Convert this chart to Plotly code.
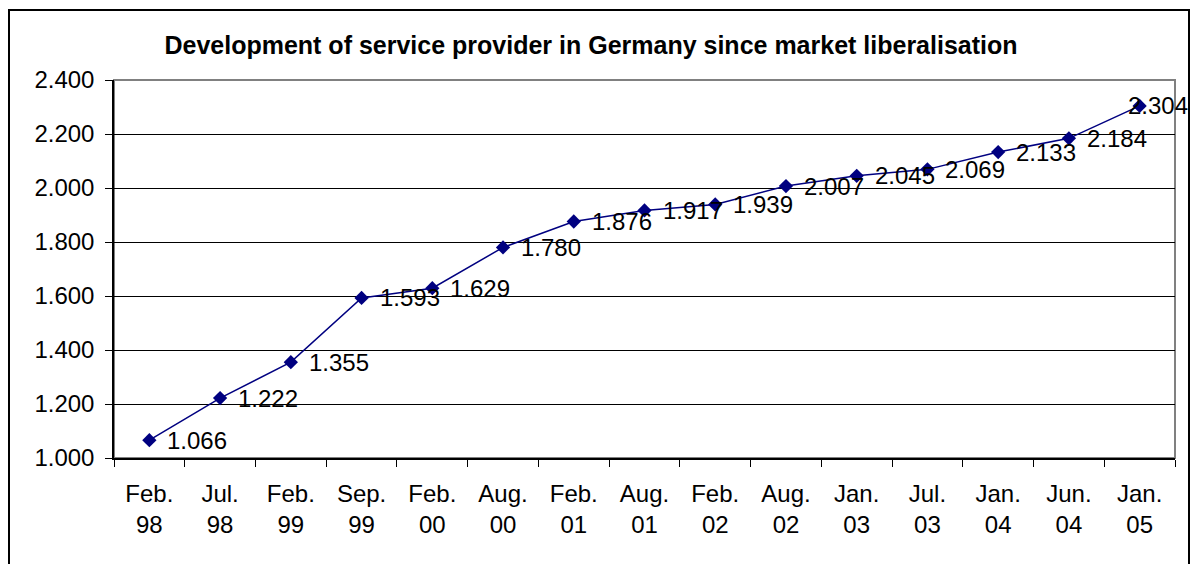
import plotly.graph_objects as go

# Service providers over time
periods = ["Feb. 98", "Jul. 98", "Feb. 99", "Sep. 99", "Feb. 00", "Aug. 00", "Feb. 01",
           "Aug. 01", "Feb. 02", "Aug. 02", "Jan. 03", "Jul. 03", "Jan. 04", "Jun. 04", "Jan. 05"]
providers = [1066, 1222, 1355, 1593, 1629, 1780, 1876, 1917, 1939, 2007, 2045, 2069, 2133, 2184, 2304]
y_ticks = [1000, 1200, 1400, 1600, 1800, 2000, 2200, 2400]

title = "Development of service provider in Germany since market liberalisation"

W, H = 1193, 564
L, R, T, B = 114, 1175, 80, 458  # plot area in pixels
FS = 24

cats = [p.replace(" ", "<br>") for p in periods]

def fmt(v):
    return f"{v:,}".replace(",", ".")

fig = go.Figure()
fig.add_trace(go.Scatter(
    x=cats, y=providers, mode="lines+markers",
    line=dict(color="#000080", width=1.5),
    marker=dict(symbol="diamond", size=11, color="#000080"),
    hoverinfo="skip", showlegend=False,
))

# value labels to the right of each point; the last one is pulled back inside the chart
for i, (c, v) in enumerate(zip(cats, providers)):
    last = i == len(cats) - 1
    fig.add_annotation(
        x=c, y=v, text=fmt(v), showarrow=False,
        xanchor="left", yanchor="middle",
        xshift=-14 if last else 16, yshift=0,
        font=dict(family="Liberation Sans, Arial", size=FS, color="#000"),
    )

def px_x(p):
    return (p - L) / (R - L)

def px_y(p):
    return (B - p) / (B - T)

# outer chart frame
fig.add_shape(type="rect", xref="paper", yref="paper",
              x0=px_x(9), x1=px_x(1189), y0=px_y(568), y1=px_y(10),
              line=dict(color="#000", width=2), layer="below")
# plot area frame
fig.add_shape(type="rect", xref="paper", yref="paper",
              x0=0, x1=1, y0=0, y1=1,
              line=dict(color="#808080", width=2), layer="below")

fig.update_layout(
    width=W, height=H, autosize=False,
    margin=dict(l=L, r=W - R, t=T, b=H - B, pad=0),
    paper_bgcolor="white", plot_bgcolor="white",
    separators=",.",
    font=dict(family="Liberation Sans, Arial", size=FS, color="#000"),
    title=dict(text=f"<b>{title}</b>", xref="container", x=591 / W, xanchor="center",
               yref="container", y=1 - 45 / H, yanchor="middle",
               font=dict(family="Liberation Sans, Arial", size=25, color="#000")),
)

fig.update_xaxes(
    type="category", range=[-0.5, len(cats) - 0.5],
    showgrid=False, showline=True, linecolor="#000", linewidth=1.5,
    ticks="outside", ticklen=7, tickcolor="#000", tickwidth=1, tickson="boundaries",
    tickfont=dict(size=FS), ticklabelstandoff=13,
)
fig.update_yaxes(
    range=[1000, 2400], tickvals=y_ticks, ticktext=[fmt(v) for v in y_ticks],
    showgrid=True, gridcolor="#000", gridwidth=1,
    showline=True, linecolor="#000", linewidth=1.5,
    ticks="outside", ticklen=7, tickcolor="#000", tickwidth=1,
    tickfont=dict(size=FS), ticklabelstandoff=6, zeroline=False,
)

fig.write_html("out.html")
